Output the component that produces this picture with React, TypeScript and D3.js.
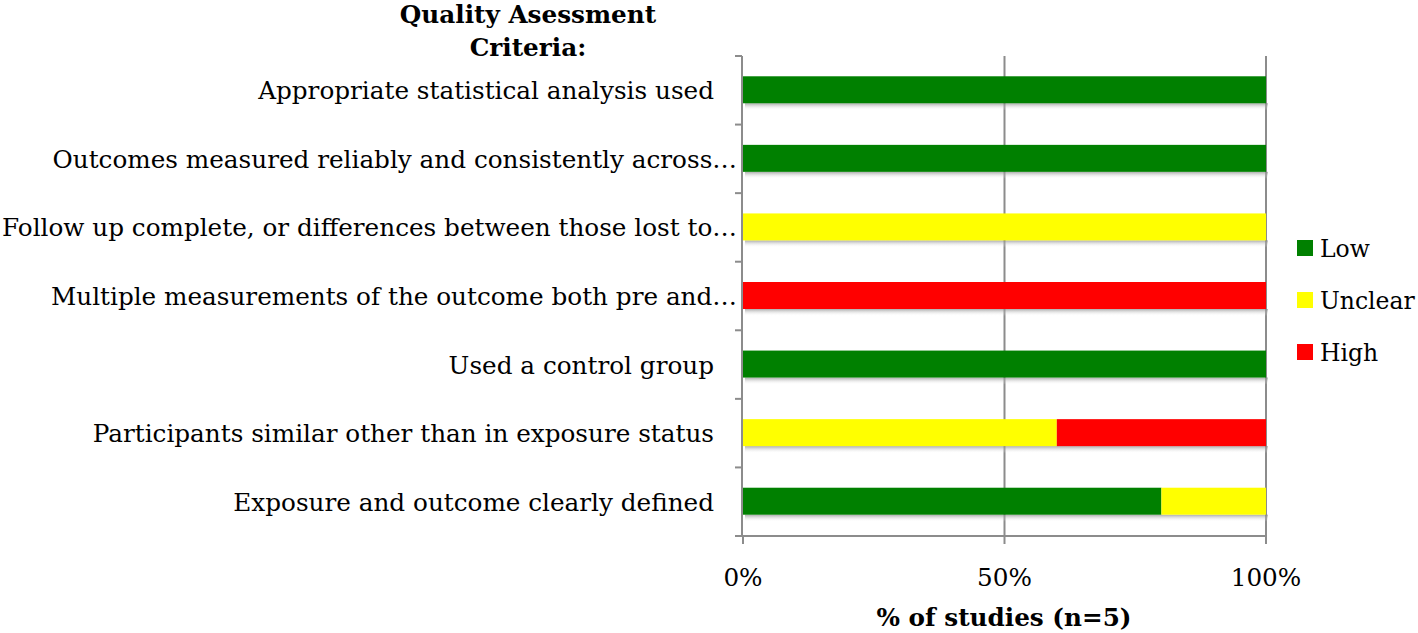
import React from "react";
import * as d3 from "d3";

const categories = [
  "Appropriate statistical analysis used",
  "Outcomes measured reliably and consistently across…",
  "Follow up complete, or differences between those lost to…",
  "Multiple measurements of the outcome both pre and…",
  "Used a control group",
  "Participants similar other than in exposure status",
  "Exposure and outcome clearly defined",
];
const lowValues = [100, 100, 0, 0, 100, 0, 80];
const unclearValues = [0, 0, 100, 0, 0, 60, 20];
const highValues = [0, 0, 0, 100, 0, 40, 0];
const seriesNames = ["Low", "Unclear", "High"];
const seriesColors = ["#008000", "#ffff00", "#ff0000"];
const xTicks = [0, 50, 100];
const xTickLabels = ["0%", "50%", "100%"];

const W = 1418;
const H = 633;
const FONT = "'DejaVu Serif', serif";
const FS = 24.7;

export default function App() {
  const x = d3.scaleLinear().domain([0, 100]).range([743, 1266]);
  const y = d3.scaleBand<string>().domain(categories).range([56, 536]);
  const step = y.step();
  const seriesData = [lowValues, unclearValues, highValues];
  const rows = categories.map((c, i) => ({ c, v: seriesData.map((s) => s[i]) }));
  const stack = d3.stack<any>().keys(["0", "1", "2"]).value((d: any, k: string) => d.v[+k]);
  const stacked = stack(rows);
  const bh = 27;
  const cyOf = (c: string) => (y(c) as number) + step / 2;
  return (
    <svg width={W} height={H} style={{ position: "absolute", left: 0, top: 0, background: "#fff" }}>
      <defs>
        <linearGradient id="shadow" x1="0" y1="0" x2="0" y2="1">
          <stop offset="0" stopColor="#888" stopOpacity={0.7} />
          <stop offset="1" stopColor="#fff" stopOpacity={0} />
        </linearGradient>
      </defs>
      {xTicks.slice(1).map((t) => (
        <line key={t} x1={x(t)} x2={x(t)} y1={56} y2={536} stroke="#8c8c8c" strokeWidth={2} />
      ))}
      {categories.map((c) => (
        <rect key={"s" + c} x={x(0) + 2} y={cyOf(c) + bh / 2 - 0.5} width={x(100) - x(0)} height={7} fill="url(#shadow)" />
      ))}
      {stacked.map((s, si) =>
        s.map((d, i) => {
          const w = x(d[1]) - x(d[0]);
          if (w <= 0) return null;
          return (
            <rect key={si + "-" + i} x={x(d[0])} y={cyOf(categories[i]) - bh / 2 - 0.5} width={w} height={bh} fill={seriesColors[si]} />
          );
        })
      )}
      <line x1={742} x2={742} y1={56} y2={536} stroke="#8c8c8c" strokeWidth={2} />
      {d3.range(categories.length + 1).map((i) => (
        <line key={"yt" + i} x1={735} x2={742} y1={56 + step * i} y2={56 + step * i} stroke="#8c8c8c" strokeWidth={2} />
      ))}
      <line x1={742} x2={1267} y1={536} y2={536} stroke="#8c8c8c" strokeWidth={2} />
      {xTicks.map((t, i) => (
        <g key={"xt" + t}>
          <line x1={x(t)} x2={x(t)} y1={536} y2={544} stroke="#8c8c8c" strokeWidth={2} />
          <text x={x(t)} y={586} textAnchor="middle" fontFamily={FONT} fontSize={FS} fill="#000">
            {xTickLabels[i]}
          </text>
        </g>
      ))}
      {categories.map((c) => (
        <text
          key={c}
          x={c.endsWith("…") ? 737 : 714}
          y={cyOf(c) + 9}
          textAnchor="end"
          fontFamily={FONT}
          fontSize={FS}
          fill="#000"
        >
          {c}
        </text>
      ))}
      <text x={528} y={23} textAnchor="middle" fontFamily={FONT} fontWeight="bold" fontSize={FS}>
        Quality Asessment
      </text>
      <text x={528} y={56} textAnchor="middle" fontFamily={FONT} fontWeight="bold" fontSize={FS}>
        Criteria:
      </text>
      <text x={1004} y={626} textAnchor="middle" fontFamily={FONT} fontWeight="bold" fontSize={FS}>
        % of studies (n=5)
      </text>
      {seriesNames.map((n, i) => (
        <g key={n}>
          <rect x={1297} y={240 + i * 52} width={16} height={16} fill={seriesColors[i]} />
          <text x={1320} y={257 + i * 52} fontFamily={FONT} fontSize={23.5} fill="#000">
            {n}
          </text>
        </g>
      ))}
    </svg>
  );
}
